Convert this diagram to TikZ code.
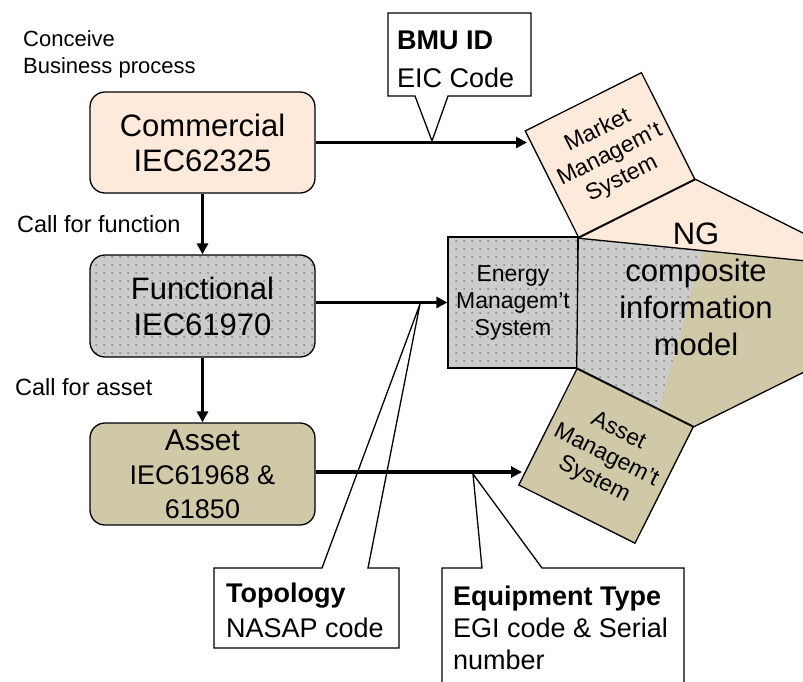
\documentclass[tikz,border=0pt]{standalone}
\usepackage{fontspec}
\setmainfont{Liberation Sans}
\usetikzlibrary{arrows.meta, patterns.meta}
\definecolor{peach}{RGB}{253,234,218}
\definecolor{boxgray}{RGB}{204,204,204}
\definecolor{dotgray}{RGB}{130,130,130}
\definecolor{khaki}{RGB}{207,201,168}

\begin{document}
\begin{tikzpicture}[x=1pt, y=-1pt, >={Triangle[length=11pt, width=11pt]},
	layerbox/.style={draw, line width=1.3pt, rounded corners=15pt, minimum width=225pt, minimum height=101pt, align=center, inner sep=0pt},
	dotfill/.style={preaction={fill=boxgray}, pattern={Dots[distance=8pt, radius=1pt]}, pattern color=dotgray},
	sysbox/.style={draw, line width=1.3pt, align=center, inner sep=0pt, font=\fontsize{23}{27}\selectfont},
	flow/.style={->, line width=3.5pt},
	notebox/.style={draw, fill=white, line width=1.3pt, line join=miter},
	notetext/.style={anchor=north west, align=left, inner sep=0pt},
	sidetext/.style={anchor=north west, align=left, inner sep=0pt, font=\fontsize{23.5}{28}\selectfont}]
			\useasboundingbox (0, 0) rectangle (803, 681);
			\clip (0, 0) rectangle (803, 681);

			% Ba lớp bên trái
			\node[layerbox, fill=peach, font=\fontsize{31}{35}\selectfont] (comm) at (202.5, 142.5) {Commercial\\IEC62325};
			\node[layerbox, dotfill, minimum height=102pt, font=\fontsize{31}{36}\selectfont] (func) at (202.5, 306) {Functional\\IEC61970};
			\node[layerbox, fill=khaki, minimum height=102pt, font=\fontsize{27}{34}\selectfont] (asset) at (202.5, 474) {{\fontsize{30}{34}\selectfont Asset}\\IEC61968 \&\\61850};

			% Các nhãn bên trái
			\node[sidetext, font=\fontsize{22}{27}\selectfont] (conceive) at (23, 30) {Conceive\\Business process};
			\node[sidetext] (callfunc) at (17, 215.6) {Call for function};
			\node[sidetext] (callasset) at (15, 378.6) {Call for asset};

			% Ba hệ thống bên phải
			\node[sysbox, fill=peach, rotate=26.6, minimum width=130pt, minimum height=119pt] (mms) at (610, 155) {Market\\Managem't\\System};
			\node[sysbox, dotfill, minimum width=130pt, minimum height=131pt] (ems) at (513, 302.5) {Energy\\Managem't\\System};
			\node[sysbox, fill=khaki, rotate=-26.6, minimum size=130pt] (ams) at (606, 456) {Asset\\Managem't\\System};

			% Khối NG ở giữa
			\coordinate (ngtip) at (943, 303);
			\coordinate (ngcut) at (871.7, 267.5);
			\fill[khaki] (mms.south west) -- (mms.south east) -- (ngtip) -- (ams.north east) -- (ams.north west) -- cycle;
			\fill[peach] (mms.south west) -- (mms.south east) -- (ngcut) -- cycle;
			\path[dotfill] (mms.south west) -- (703, 250.1) -- (659, 409.9) -- (ams.north west) -- cycle;
			\draw[line width=1.3pt] (mms.south west) -- (ngcut);
			\draw[line width=1.3pt, line join=miter] (mms.south west) -- (mms.south east) -- (ngtip) -- (ams.north east) -- (ams.north west) -- cycle;
			\node[align=center, font=\fontsize{31}{37}\selectfont] (ng) at (696, 289) {NG\\composite\\information\\model};

			% Các chú thích
			\coordinate (bmu-tip) at (432, 141);
			\coordinate (topo-tip) at (420, 304);
			\coordinate (equip-tip) at (473, 474);
			\draw[notebox] (388, 13) -- (531, 13) -- (531, 96) -- (448, 96) -- (bmu-tip) -- (415, 96) -- (388, 96) -- cycle;
			\draw[notebox] (214, 568) -- (322, 568) -- (topo-tip) -- (368, 568) -- (399, 568) -- (399, 648) -- (214, 648) -- cycle;
			\draw[notebox] (442, 568) -- (482, 568) -- (equip-tip) -- (542, 568) -- (684, 568) -- (684, 700) -- (442, 700) -- cycle;
			\node[notetext, font=\fontsize{27}{38}\selectfont] (bmu) at (397, 30.3) {\textbf{BMU ID}\\EIC Code};
			\node[notetext, font=\fontsize{27}{35}\selectfont] (topo) at (226, 582.3) {\textbf{Topology}\\NASAP code};
			\node[notetext, font=\fontsize{27}{32}\selectfont] (equip) at (453, 585.3) {\textbf{Equipment Type}\\EGI code \& Serial\\number};

			% Các mũi tên
			\coordinate (mms-in) at (527, 142.5);
			\coordinate (ams-in) at (522, 472);
			\draw[flow] (comm) -- (func);
			\draw[flow] (func) -- (asset);
			\draw[flow] (comm.east) -- (mms-in);
			\draw[flow] (func.east |- ems.west) -- (ems.west);
			\draw[flow] (asset.east |- ams-in) -- (ams-in);
		\end{tikzpicture}
\end{document}
